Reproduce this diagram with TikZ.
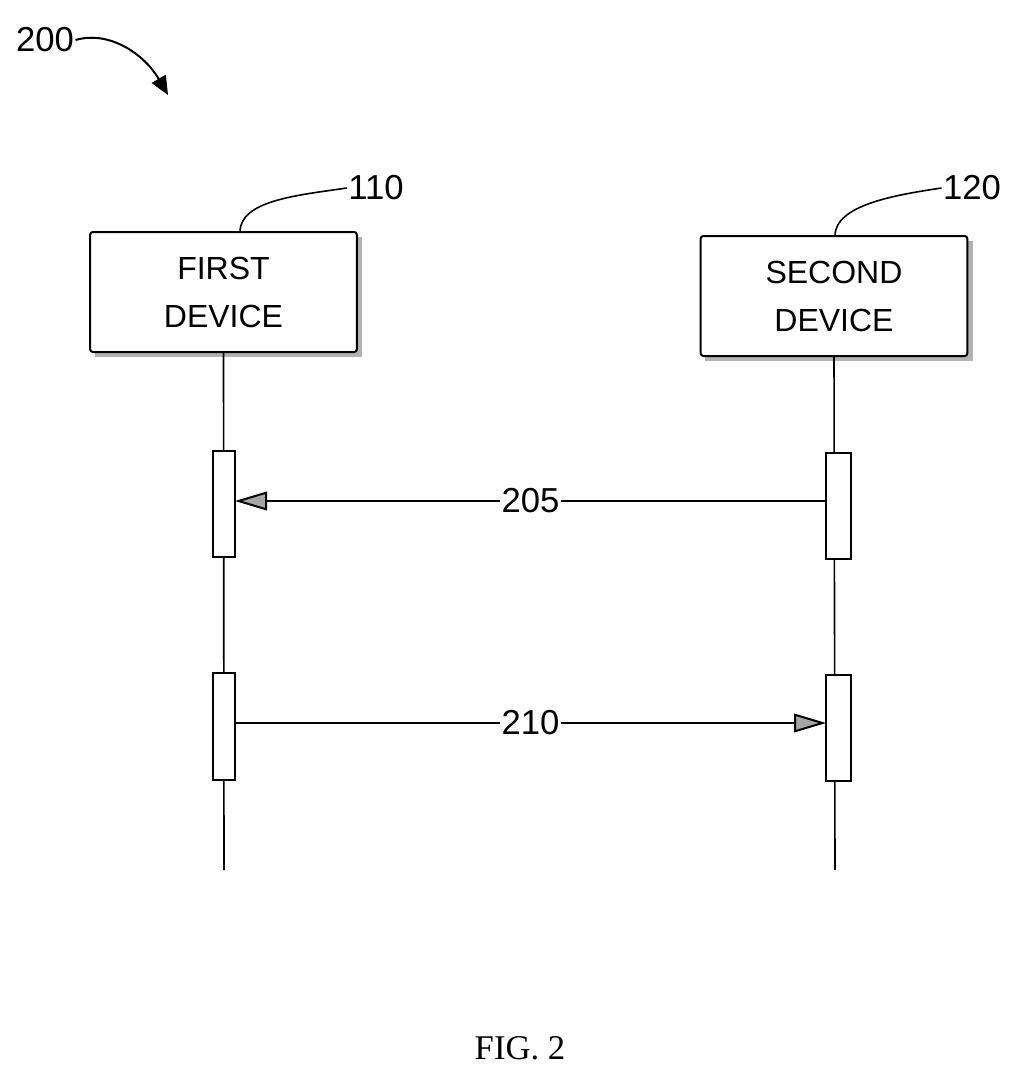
\documentclass[tikz,border=0pt]{standalone}
\usepackage{fontspec}
\setmainfont{Liberation Sans}
\newfontfamily\figfont{Liberation Serif}
\usetikzlibrary{arrows.meta}

\begin{document}
\begin{tikzpicture}[x=0.75pt,y=0.75pt,yscale=-1,xscale=1,
    devbox/.style={draw,line width=1.5pt,rounded corners=2pt,fill=white,minimum width=200pt,minimum height=90pt,align=center,inner sep=0pt,font=\fontsize{24}{36}\selectfont},
    shade/.style={fill=gray!60},
    actbar/.style={draw,line width=1.2pt,fill=white},
    msg/.style={line width=1.5pt,-{Triangle[length=24pt,width=14pt,fill=gray!70]}},
    numlbl/.style={font=\fontsize{26}{30}\selectfont,inner sep=1pt}]
    \useasboundingbox (0,0) rectangle (1024,1078);

    % shadows
    \fill [shade] (95,237) rectangle (362,357);
    \fill [shade] (705,241) rectangle (973,361);
    % devices
    \node [devbox] (first) at (223.5,292) {FIRST\\DEVICE};
    \node [devbox] (second) at (834,296) {SECOND\\DEVICE};

    % lifelines
    \coordinate (firstend) at (224,870);
    \coordinate (secondend) at (835,870);
    \draw [line width=1.2pt] (first.south) -- (firstend);
    \draw [line width=1.2pt] (second.south) -- (secondend);

    % activation bars
    \draw [actbar] (213,451) rectangle (235,557);
    \draw [actbar] (213,673) rectangle (235,780);
    \draw [actbar] (826,453) rectangle (851,559);
    \draw [actbar] (826,675) rectangle (851,781);
    \coordinate (a1) at (235,501);
    \coordinate (b1) at (826,501);
    \coordinate (a2) at (235,723);
    \coordinate (b2) at (826,723);

    % messages
    \draw [msg] (b1) -- (a1) node [midway,fill=white,numlbl] (m205) {205};
    \draw [msg] (a2) -- (b2) node [midway,fill=white,numlbl] (m210) {210};

    % reference numerals
    \node [numlbl] (l110) at (376,188) {110};
    \node [numlbl] (l120) at (972,188) {120};
    \draw [line width=1.2pt] (240,232) .. controls (240,200) and (300,195) .. (l110.west);
    \draw [line width=1.2pt] (835,236) .. controls (835,205) and (895,195) .. (l120.west);

    \node [numlbl] (l200) at (45,40) {200};
    \draw [line width=1.5pt,-{Triangle[length=14pt,width=12pt]}] (l200.east) .. controls (110,30) and (145,55) .. (168,95);

    \node [font=\figfont\fontsize{26}{30}\selectfont] (fig) at (520,1048) {FIG. 2};
\end{tikzpicture}
\end{document}
